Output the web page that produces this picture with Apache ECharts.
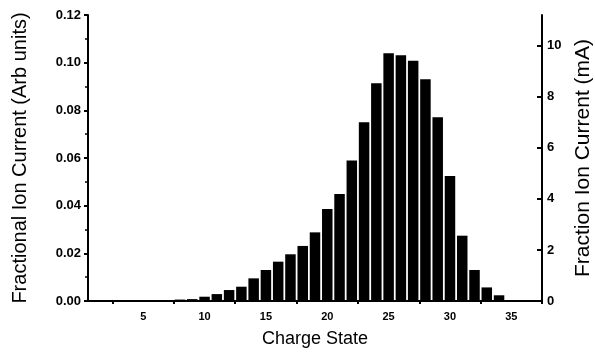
<!DOCTYPE html>
<html>
<head>
<meta charset="utf-8">
<script src="https://cdn.jsdelivr.net/npm/echarts@6/dist/echarts.min.js"></script>
<style>html,body{margin:0;padding:0;background:#fff}#c{width:595px;height:354px}</style>
</head>
<body>
<div id="c"></div>
<script>
var chargeStates = [6, 7, 8, 9, 10, 11, 12, 13, 14, 15, 16, 17, 18, 19, 20, 21, 22, 23, 24, 25, 26, 27, 28, 29, 30, 31, 32, 33, 34];
var fractionalCurrent = [0.0002, 0.0003, 0.0006, 0.0008, 0.0018, 0.0029, 0.0046, 0.0060, 0.0095, 0.0130, 0.0165, 0.0196, 0.0231, 0.0288, 0.0386, 0.0449, 0.0589, 0.0750, 0.0914, 0.1039, 0.1031, 0.1008, 0.0930, 0.0771, 0.0525, 0.0274, 0.0130, 0.0057, 0.0024];
var xLabelValues = [5, 10, 15, 20, 25, 30, 35];
var xTickValues = [2.5, 7.5, 12.5, 17.5, 22.5, 27.5, 32.5, 37.5];
var rightLabelValues = [0, 2, 4, 6, 8, 10];

var chart = echarts.init(document.getElementById('c'));
var axisLine = {show: true, lineStyle: {color: '#000', width: 2}};
chart.setOption({
  animation: false,
  grid: {left: 88, right: 53, top: 15, bottom: 53, outerBoundsMode: 'none', containLabel: false},
  xAxis: {
    type: 'value', min: 0.5, max: 37.5,
    name: 'Charge State', nameLocation: 'middle', nameGap: 29,
    nameTextStyle: {fontFamily: 'Liberation Sans, Arial', fontSize: 18, color: '#000'},
    axisLine: axisLine,
    axisTick: {show: true, customValues: xTickValues, length: 3, lineStyle: {color: '#000', width: 2}},
    axisLabel: {customValues: xLabelValues, fontFamily: 'Liberation Sans, Arial', fontWeight: 'bold', fontSize: 11, color: '#000', margin: 10},
    splitLine: {show: false}
  },
  yAxis: [{
    type: 'value', min: 0, max: 0.12, interval: 0.02, position: 'left',
    name: 'Fractional Ion Current (Arb units)', nameLocation: 'middle', nameGap: 58, nameRotate: 90,
    nameTextStyle: {fontFamily: 'Liberation Sans, Arial', fontSize: 20, color: '#000'},
    axisLine: axisLine,
    axisTick: {show: true, length: 4, lineStyle: {color: '#000', width: 2}},
    minorTick: {show: true, splitNumber: 2, length: 3, lineStyle: {color: '#000', width: 1.5}},
    axisLabel: {formatter: function (v) { return v.toFixed(2); }, fontFamily: 'Liberation Sans, Arial', fontWeight: 'bold', fontSize: 13, color: '#000', margin: 7},
    splitLine: {show: false}
  }, {
    type: 'value', min: 0, max: 11.2, position: 'right',
    name: 'Fraction Ion Current (mA)', nameLocation: 'middle', nameGap: 28, nameRotate: 90,
    nameTextStyle: {fontFamily: 'Liberation Sans, Arial', fontSize: 21, color: '#000'},
    axisLine: axisLine,
    axisTick: {show: true, inside: true, customValues: rightLabelValues, length: 5, lineStyle: {color: '#000', width: 2}},
    axisLabel: {customValues: rightLabelValues, fontFamily: 'Liberation Sans, Arial', fontWeight: 'bold', fontSize: 13, color: '#000', margin: 5},
    splitLine: {show: false}
  }],
  series: [{
    type: 'bar', xAxisIndex: 0, yAxisIndex: 0, barWidth: 10.5,
    itemStyle: {color: '#000'},
    data: chargeStates.map(function (c, i) { return [c, fractionalCurrent[i]]; })
  }]
});
</script>
</body>
</html>
